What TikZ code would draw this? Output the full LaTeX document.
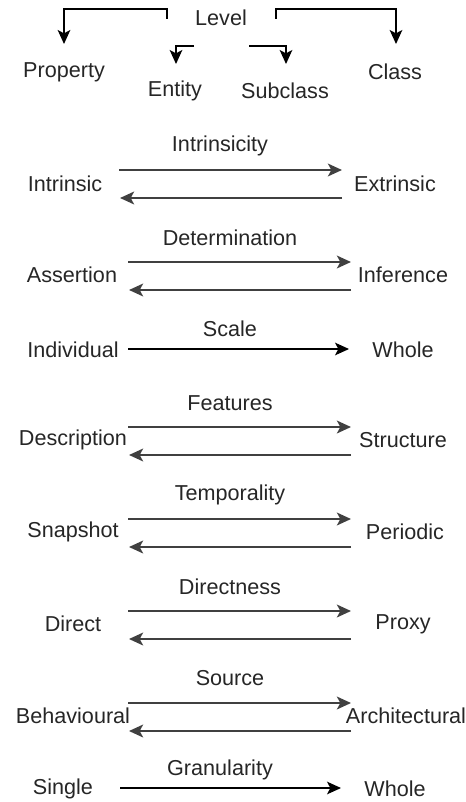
\documentclass[tikz,border=0pt]{standalone}
\usepackage{fontspec}
\setmainfont{Liberation Sans}
\usetikzlibrary{arrows.meta}
\begin{document}
\begin{tikzpicture}[x=0.75pt,y=-0.75pt,
  lbl/.style={inner sep=0pt,font=\fontsize{16.2}{19}\selectfont,text=black!85},
  tip/.style={-{Stealth[length=10.5pt,width=9.5pt,inset=2.5pt]}},
  duo/.style={tip,draw=black!75,line width=1.9pt},
  uni/.style={tip,draw=black,line width=0.9pt},
  brk/.style={tip,draw=black,line width=1.1pt}]
\useasboundingbox (0,0) rectangle (466,802);
% Level
\node[lbl] (lvl) at (221,18) {Level};
\node[lbl] (prop) at (64,72) {Property};
\node[lbl] (ent) at (175,91) {Entity};
\node[lbl] (sub) at (285,91) {Subclass};
\node[lbl] (cls) at (395,72) {Class};
\coordinate (l1) at (167,19);
\coordinate (l2) at (276,19);
\coordinate (e1) at (194,46);
\coordinate (s1) at (249,46);
\coordinate (pt) at (64,44);
\coordinate (ct) at (396,44);
\coordinate (et) at (176,64);
\coordinate (st) at (286,64);
\draw[brk] (l1) -- (l1 |- 0,9) -| (pt);
\draw[brk] (l2) -- (l2 |- 0,9) -| (ct);
\draw[brk] (e1) -| (et);
\draw[brk] (s1) -| (st);
% Intrinsicity
\node[lbl] (tI) at (220,146) {Intrinsicity};
\node[lbl] (aI) at (65,184) {Intrinsic};
\node[lbl] (bI) at (395,184) {Extrinsic};
\coordinate (iA) at (119,170); \coordinate (iB) at (342,170);
\coordinate (iC) at (342,198); \coordinate (iD) at (120,198);
\draw[duo] (iA) -- (iB);
\draw[duo] (iC) -- (iD);
% Determination
\node[lbl] (tD) at (230,238) {Determination};
\node[lbl] (aD) at (72,275) {Assertion};
\node[lbl] (bD) at (403,275) {Inference};
\coordinate (dA) at (128,262); \coordinate (dB) at (351,262);
\coordinate (dC) at (351,290); \coordinate (dD) at (129,290);
\draw[duo] (dA) -- (dB);
\draw[duo] (dC) -- (dD);
% Scale
\node[lbl] (tS) at (230,329) {Scale};
\node[lbl] (aS) at (73,350) {Individual};
\node[lbl] (bS) at (403,350) {Whole};
\coordinate (sA) at (128,349); \coordinate (sB) at (349,349);
\draw[uni] (sA) -- (sB);
% Features
\node[lbl] (tF) at (230,403) {Features};
\node[lbl] (aF) at (73,440) {Description};
\node[lbl] (bF) at (403,440) {Structure};
\coordinate (fA) at (128,427); \coordinate (fB) at (351,427);
\coordinate (fC) at (351,455); \coordinate (fD) at (129,455);
\draw[duo] (fA) -- (fB);
\draw[duo] (fC) -- (fD);
% Temporality
\node[lbl] (tT) at (230,495) {Temporality};
\node[lbl] (aT) at (73,532) {Snapshot};
\node[lbl] (bT) at (405,532) {Periodic};
\coordinate (tA) at (128,519); \coordinate (tB) at (351,519);
\coordinate (tC) at (351,547); \coordinate (tD) at (129,547);
\draw[duo] (tA) -- (tB);
\draw[duo] (tC) -- (tD);
% Directness
\node[lbl] (tR) at (230,587) {Directness};
\node[lbl] (aR) at (73,624) {Direct};
\node[lbl] (bR) at (403,624) {Proxy};
\coordinate (rA) at (128,611); \coordinate (rB) at (351,611);
\coordinate (rC) at (351,639); \coordinate (rD) at (129,639);
\draw[duo] (rA) -- (rB);
\draw[duo] (rC) -- (rD);
% Source
\node[lbl] (tO) at (230,678) {Source};
\node[lbl] (aO) at (73,716) {Behavioural};
\node[lbl] (bO) at (406,716) {Architectural};
\coordinate (oA) at (128,703); \coordinate (oB) at (351,703);
\coordinate (oC) at (351,731); \coordinate (oD) at (129,731);
\draw[duo] (oA) -- (oB);
\draw[duo] (oC) -- (oD);
% Granularity
\node[lbl] (tG) at (220,770) {Granularity};
\node[lbl] (aG) at (63,789) {Single};
\node[lbl] (bG) at (395,789) {Whole};
\coordinate (gA) at (120,788); \coordinate (gB) at (341,788);
\draw[uni] (gA) -- (gB);
\end{tikzpicture}
\end{document}
